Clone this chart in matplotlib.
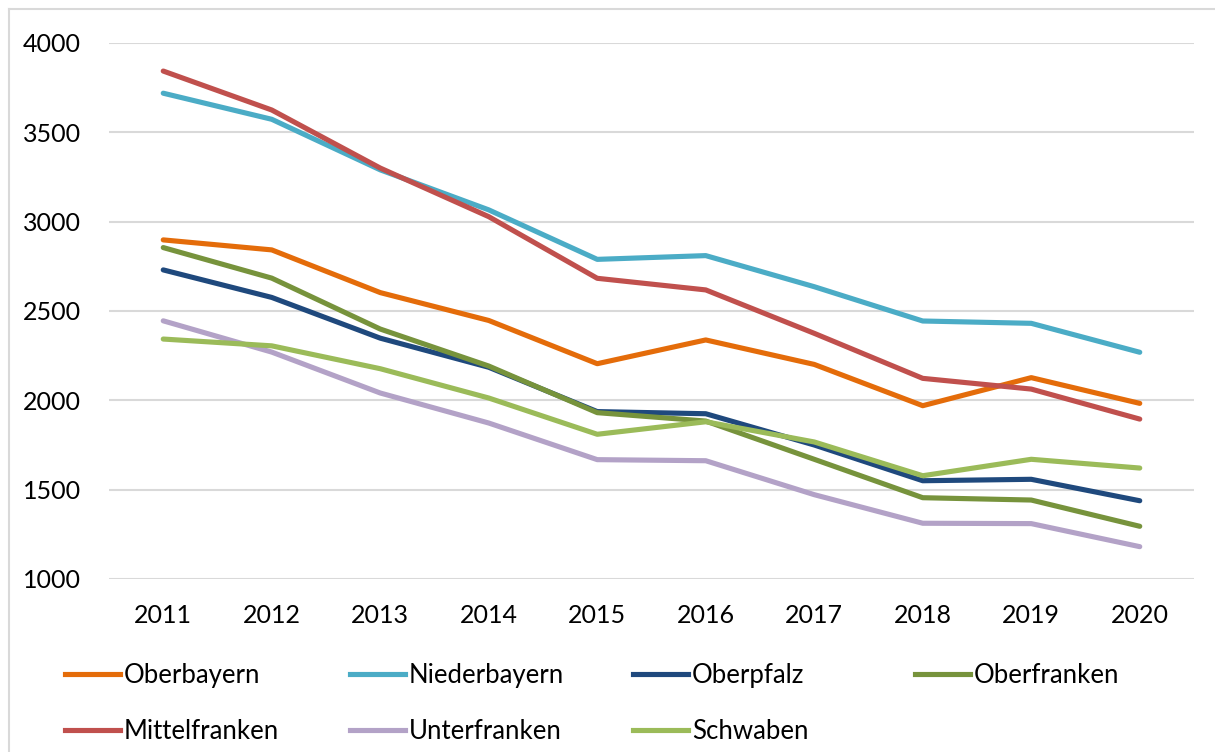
import matplotlib
matplotlib.use("Agg")
import matplotlib.pyplot as plt
from matplotlib.lines import Line2D

plt.rcParams['font.family'] = ['Lato', 'DejaVu Sans']

years = [2011, 2012, 2013, 2014, 2015, 2016, 2017, 2018, 2019, 2020]
oberbayern    = [2898, 2842, 2603, 2447, 2205, 2338, 2201, 1970, 2127, 1983]
niederbayern  = [3719, 3573, 3290, 3066, 2789, 2810, 2636, 2444, 2431, 2269]
oberpfalz     = [2730, 2576, 2348, 2185, 1937, 1925, 1750, 1550, 1558, 1438]
oberfranken   = [2855, 2684, 2399, 2192, 1931, 1884, 1670, 1455, 1442, 1295]
mittelfranken = [3843, 3625, 3300, 3028, 2683, 2618, 2375, 2123, 2063, 1895]
unterfranken  = [2445, 2270, 2041, 1873, 1668, 1662, 1472, 1312, 1310, 1181]
schwaben      = [2343, 2305, 2177, 2013, 1810, 1880, 1767, 1578, 1670, 1621]

series = [
    ("Oberbayern", oberbayern, "#E46C0A"),
    ("Niederbayern", niederbayern, "#4BACC6"),
    ("Oberpfalz", oberpfalz, "#1F497D"),
    ("Oberfranken", oberfranken, "#77933C"),
    ("Mittelfranken", mittelfranken, "#C0504D"),
    ("Unterfranken", unterfranken, "#B3A2C7"),
    ("Schwaben", schwaben, "#9BBB59"),
]
yticks = [1000, 1500, 2000, 2500, 3000, 3500, 4000]

W, H = 1215, 752
fig = plt.figure(figsize=(W / 100, H / 100), dpi=100)
ax = fig.add_axes([109 / W, 1 - 579 / H, (1194 - 109) / W, (579 - 43) / H])

handles = {}
for name, vals, col in series:
    ln, = ax.plot(years, vals, color=col, lw=3.7, solid_capstyle='round',
                  solid_joinstyle='round', label=name, zorder=3)
    handles[name] = ln

ax.set_xlim(2010.5, 2020.5)
ax.set_ylim(1000, 4000)
ax.set_yticks(yticks)
ax.set_xticks(years)
ax.set_xticklabels([str(y) for y in years])
ax.grid(axis='y', color='#D9D9D9', lw=1.5, zorder=0)
ax.grid(axis='x', visible=False)
for s in ax.spines.values():
    s.set_visible(False)
ax.tick_params(axis='both', length=0, labelsize=18, colors='black')
ax.tick_params(axis='y', pad=20)
ax.tick_params(axis='x', pad=18)

# legend: row-major layout with fixed column positions
cols = [
    ["Oberbayern", "Mittelfranken"],
    ["Niederbayern", "Unterfranken"],
    ["Oberpfalz", "Schwaben"],
    ["Oberfranken"],
]
xstarts = [65, 350, 633, 915]
for xs, names in zip(xstarts, cols):
    hs = [Line2D([], [], color=handles[n].get_color(), lw=3.7) for n in names]
    fig.legend(hs, names, loc='upper left', bbox_to_anchor=(xs / W, 1 - 663 / H),
               frameon=False, fontsize=18.5, handlelength=2.15, handletextpad=0.15,
               labelspacing=1.22, borderpad=0, borderaxespad=0)

# chart border (light grey)
fig.add_artist(Line2D([8.5 / W, 8.5 / W], [0, 1 - 9 / H], color='#D9D9D9', lw=1.5,
                      transform=fig.transFigure))
fig.add_artist(Line2D([8.5 / W, 1], [1 - 9 / H, 1 - 9 / H], color='#D9D9D9', lw=1.5,
                      transform=fig.transFigure))

fig.savefig("out.png", dpi=100)
